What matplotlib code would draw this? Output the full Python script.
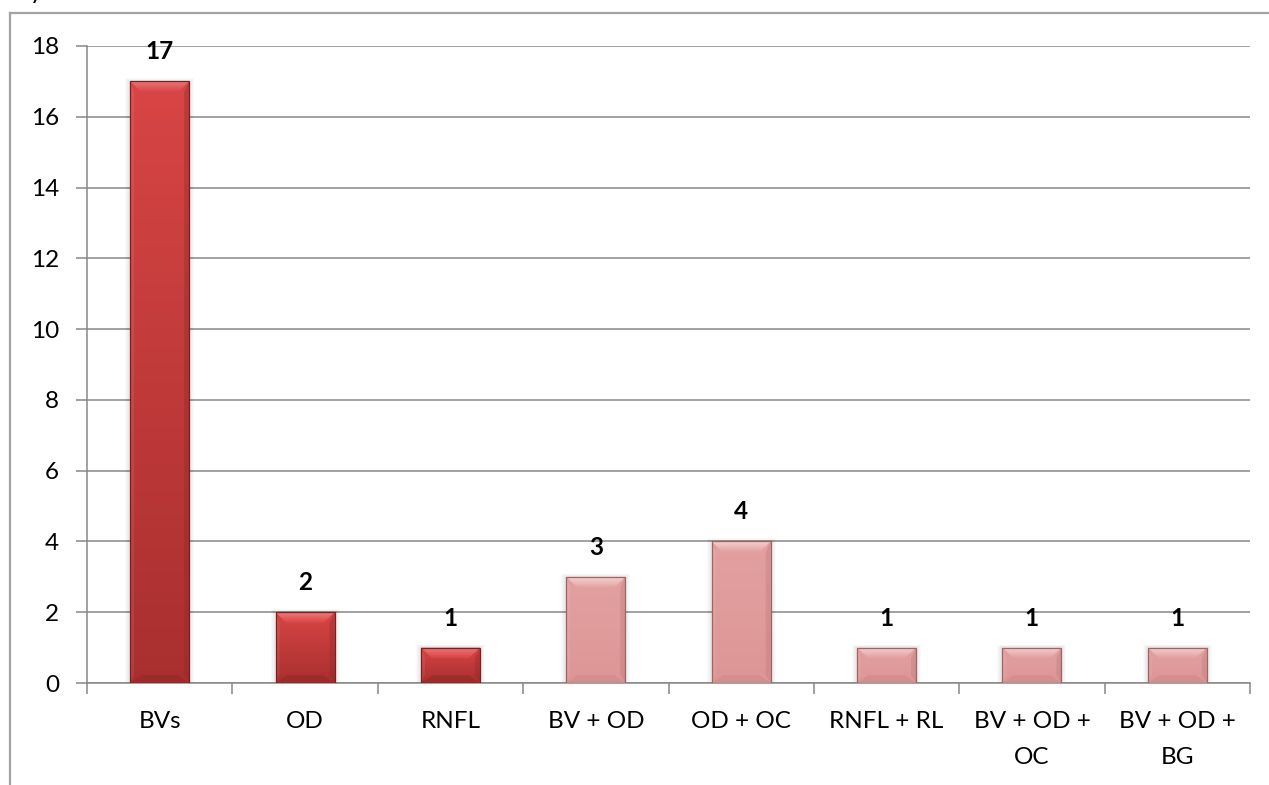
import numpy as np
import matplotlib
matplotlib.use("Agg")
import matplotlib.pyplot as plt
from matplotlib.patches import Rectangle, Polygon
from matplotlib.lines import Line2D
from matplotlib.colors import LinearSegmentedColormap

# ---- data -------------------------------------------------------------
categories = ["BVs", "OD", "RNFL", "BV + OD", "OD + OC", "RNFL + RL",
              "BV + OD +\nOC", "BV + OD +\nBG"]
counts = [17, 2, 1, 3, 4, 1, 1, 1]
groups = ["single", "single", "single", "combo", "combo", "combo", "combo", "combo"]
y_ticks = [0, 2, 4, 6, 8, 10, 12, 14, 16, 18]

# ---- styling ----------------------------------------------------------
plt.rcParams["font.family"] = ["Lato", "DejaVu Sans"]
FS = 17.5

palette = {
    "single": dict(top="#d84545", bottom="#a92f2f", edge="#7a2020",
                   bevel_top="#ee7a7a", bevel_bot="#8e2626", side="#8f2828"),
    "combo": dict(top="#e3a0a0", bottom="#dd9696", edge="#a06464",
                  bevel_top="#f7d0d0", bevel_bot="#c98585", side="#b97979"),
}

W, H, DPI = 1269, 785, 100
fig = plt.figure(figsize=(W / DPI, H / DPI), dpi=DPI)
fig.patch.set_facecolor("white")

ax_left, ax_right, ax_top, ax_bot = 87, 1250, 46, 683
ax = fig.add_axes([ax_left / W, 1 - ax_bot / H, (ax_right - ax_left) / W,
                   (ax_bot - ax_top) / H])

n = len(categories)
x = np.arange(n)
bar_w = 0.405
ax.set_xlim(-0.5, n - 0.5)
ax.set_ylim(0, 18)

grid_col = "#878787"
ax.set_yticks(y_ticks)
ax.yaxis.grid(True, color=grid_col, linewidth=1.1, zorder=0)
ax.set_axisbelow(True)
for s in ("top", "right"):
    ax.spines[s].set_visible(False)
for s in ("left", "bottom"):
    ax.spines[s].set_color(grid_col)
    ax.spines[s].set_linewidth(1.1)

ax.set_xticks(x)
ax.set_xticklabels(categories, fontsize=FS, linespacing=1.85, va="top")
ax.set_xticks(np.arange(-0.5, n, 1.0), minor=True)
ax.tick_params(axis="x", which="major", length=0, pad=20.5)
ax.tick_params(axis="x", which="minor", length=8, width=1.1, color=grid_col,
               direction="out")
ax.tick_params(axis="y", length=8, width=1.1, color=grid_col, pad=12,
               labelsize=FS)

# pixel sizes converted into data units for bevels and shadows
px_x = (n) / (ax_right - ax_left)
px_y = 18.0 / (ax_bot - ax_top)
bev_px = 11

bars = ax.bar(x, counts, width=bar_w, color="none", edgecolor="none", zorder=3)

for rect, grp, val in zip(bars, groups, counts):
    c = palette[grp]
    x0 = rect.get_x()
    w = rect.get_width()
    x1 = x0 + w
    h = rect.get_height()

    # soft shadow halo
    for k in range(1, 6):
        ax.add_patch(Rectangle((x0 - k * px_x, 0), w + 2 * k * px_x, h + k * px_y * 0.6,
                               facecolor="#000000", alpha=0.018, edgecolor="none",
                               zorder=2.5))

    # body with vertical gradient
    cmap = LinearSegmentedColormap.from_list("g", [c["bottom"], c["top"]])
    body = Rectangle((x0, 0), w, h, facecolor="none", edgecolor="none", zorder=3)
    ax.add_patch(body)
    im = ax.imshow(np.linspace(0, 1, 256).reshape(-1, 1), extent=[x0, x1, 0, h],
                   origin="lower", aspect="auto", cmap=cmap, zorder=3,
                   interpolation="bilinear")
    im.set_clip_path(body)

    bx = bev_px * px_x
    by = min(bev_px * px_y, h * 0.3)
    byb = min(8 * px_y, h * 0.22)

    # top bevel (lit face)
    tcmap = LinearSegmentedColormap.from_list("t", [c["top"], c["bevel_top"]])
    top_poly = Polygon([(x0, h), (x1, h), (x1 - bx, h - by), (x0 + bx, h - by)],
                       closed=True, facecolor="none", edgecolor="none", zorder=3.2)
    ax.add_patch(top_poly)
    tim = ax.imshow(np.linspace(0, 1, 64).reshape(-1, 1), extent=[x0, x1, h - by, h],
                    origin="lower", aspect="auto", cmap=tcmap, zorder=3.2,
                    interpolation="bilinear")
    tim.set_clip_path(top_poly)

    # bottom bevel (shaded)
    ax.add_patch(Polygon([(x0, 0), (x1, 0), (x1 - bx, byb), (x0 + bx, byb)],
                         closed=True, facecolor=c["bevel_bot"], alpha=0.45,
                         edgecolor="none", zorder=3.2))
    # right side (shaded)
    ax.add_patch(Polygon([(x1, 0), (x1, h), (x1 - bx * 0.45, h - by),
                          (x1 - bx * 0.45, byb)],
                         closed=True, facecolor=c["side"], alpha=0.35,
                         edgecolor="none", zorder=3.15))
    # left side (slightly lit)
    ax.add_patch(Polygon([(x0, 0), (x0, h), (x0 + bx * 0.35, h - by),
                          (x0 + bx * 0.35, byb)],
                         closed=True, facecolor="white", alpha=0.08,
                         edgecolor="none", zorder=3.15))
    # outline
    ax.add_patch(Rectangle((x0, 0), w, h, facecolor="none", edgecolor=c["edge"],
                           linewidth=0.9, zorder=3.4))

    ax.annotate(str(val), (rect.get_x() + w / 2, h), xytext=(0, 13),
                textcoords="offset points", ha="center", va="bottom",
                fontsize=FS, fontweight="bold", color="black", zorder=5)

ax.set_xlim(-0.5, n - 0.5)
ax.set_ylim(0, 18)

# outer chart frame (top and left edges)
frame_col = "#a3a3a3"
fig.add_artist(Line2D([10 / W, 1.0], [1 - 13 / H, 1 - 13 / H], color=frame_col,
                      linewidth=1.6, transform=fig.transFigure))
fig.add_artist(Line2D([10 / W, 10 / W], [1 - 13 / H, 0.0], color=frame_col,
                      linewidth=1.6, transform=fig.transFigure))
fig.text(30 / W, 1 + 1 / H, "y", fontsize=FS, ha="left", va="baseline")

fig.savefig("out.png", dpi=DPI)
